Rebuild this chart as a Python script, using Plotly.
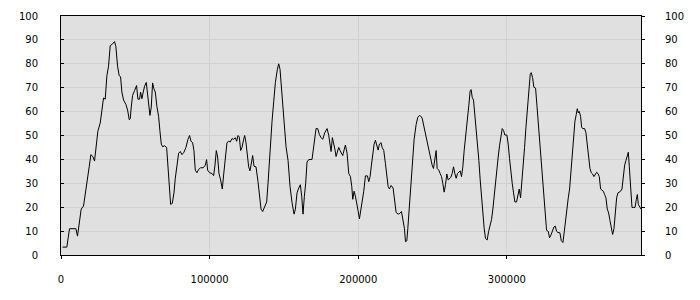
import plotly.graph_objects as go

x_vals = [1000, 3930, 5720, 9990, 11110, 12240, 13580, 15150, 16280, 17400, 18970, 20090, 21440, 22560,
          23460, 24810, 26380, 27500, 28620, 29750, 30870, 31990, 33110, 34690, 36030, 36930, 38050,
          39180, 40080, 40970, 42100, 43670, 44790, 45920, 46590, 47260, 48160, 49510, 50850, 51750,
          52870, 53550, 54450, 55350, 56240, 57370, 58040, 58940, 59840, 60730, 61630, 62530, 63430,
          64550, 65680, 66580, 67480, 68370, 69720, 71070, 71960, 72860, 73760, 74880, 76010, 76900,
          78030, 79150, 80270,
          81370, 82720, 84060, 85410, 86530, 87430, 88550, 89450, 90350, 91470, 92600, 93940, 95740,
          97090, 97980, 98660, 100000, 101580, 102700, 103600, 104490, 105390, 106290, 107410, 108530,
          109430, 110560, 111680, 112800, 113920, 115050, 116170, 117290, 118190, 119090, 119980,
          120880, 121780, 122900, 123580, 124470, 125370, 126270, 127170, 128070, 128960, 129860,
          131210, 132560, 133680, 134580, 135700, 137050, 138390, 139290, 140190, 141090, 141990,
          143110, 144230, 145580, 146480, 147370, 148270, 149400, 150520, 151420, 152760, 154110,
          155460, 156800, 157700, 158820, 159950, 161070,
          161950, 162850, 163750, 164640, 165540, 166670, 168910, 169810, 170710, 171600, 172730,
          173850, 174970, 176090, 177440, 179010, 180140, 181030, 181710, 182600, 183500, 184400,
          185070, 185970, 186870, 187770, 188670, 189560, 190460, 191360, 192480, 193610, 194730,
          195630, 196300, 197200, 198100, 199000, 199890, 200790, 201690, 202590, 203710, 204830,
          206180, 207080, 207970, 208870, 209770, 210670, 211570, 212460, 213360, 214260, 215380,
          216060, 217180, 218300, 219200, 220100, 220990, 222120, 223460, 224590, 225480, 226830,
          227950, 229080, 230200, 231100, 231770, 232670, 233340, 234240, 235360, 236480, 237610,
          238950, 240080, 241200, 241870,
          242990, 243880, 244780, 245680, 246580, 247480, 248600, 249720, 250620, 251520, 252410,
          253090, 254210, 255110, 256010, 256900, 257800, 258700, 259600, 260500, 261390, 262290,
          263190, 264090, 264990, 265880, 266780, 267680, 268580, 269480, 270370, 271270, 272170,
          273290, 274420, 275310, 275990, 276660, 277560, 278460, 279350, 280250, 281150, 282050,
          282950, 283840, 284740, 285640, 286760, 287660, 288560, 289680, 290580, 291480, 292380,
          293270, 294170, 295070, 295970, 296870, 297760, 298660, 300010, 300910, 301800, 302700,
          303600, 304500, 305400, 306520, 307420, 308320, 309210, 310110, 311010, 311910, 312810,
          313700, 314600, 315720, 316400, 317290, 318190, 319320, 320220, 321110, 322010,
          323120, 324020, 324920, 325820, 326710, 327840, 328730, 329630, 330530, 331650, 332550,
          333450, 334350, 335690, 336590, 337710, 338610, 339510, 340410, 341310, 342200, 343100,
          344000, 344900, 345800, 346690, 347370, 348040, 348710, 349610, 350290, 350960, 352310,
          353200, 354100, 355000, 355900, 356800, 357690, 358590, 359490, 360390, 361290, 362180,
          363080, 363980, 364880, 365780, 366670, 367570, 368470, 369370, 370270, 371160, 372060,
          372960, 373860, 374760, 375650, 376550, 377450, 378350, 379250, 380140, 381040, 381720,
          382390, 383290, 384190, 385310, 386210, 387110, 387780, 388450, 389350, 390250]

y_vals = [3.3, 3.3, 11, 11, 7.9, 13.7, 19.2, 20.5, 26, 30.7, 36.9, 42, 41.2, 39.3,
          43.7, 51.8, 55.2, 60, 65.7, 65.2, 75, 79, 87.6, 88.3, 89.3, 87.2, 79,
          75, 74.6, 68.2, 64.8, 63, 60.7, 56.6, 57, 61.9, 66.8, 68.8, 70.9, 65.2,
          65.2, 68.2, 65.4, 68.2, 70.6, 72.2, 68.2, 61.4, 58.4, 61.9, 72, 69.5, 68.2,
          62, 58, 51.8, 46.4, 45.3, 45.7, 45, 38.2, 30.7, 21.2, 21.6, 26, 32.1,
          38.9, 42.6, 43.3,
          42, 43, 45, 48.4, 50, 47.6, 47, 43.7, 35.5, 34.4, 35.8, 36.5, 36.5,
          37.6, 39.9, 35.5, 34.4, 34.1, 33.2, 37.6, 43.7, 41, 34.1, 31.4, 27.6,
          33.5, 41, 47, 47.6, 47.3, 48.7, 48.4, 49.1, 47.6, 50, 49.3,
          43.7, 45, 48.4, 50, 47, 42.3, 36.9, 35.2, 39.6, 41.6, 37.1,
          36.9, 30.7, 23.3, 19.2, 18.2, 19.9, 22.2, 30, 39.6, 47.8, 55.9,
          64.1, 72.2, 77.7, 80, 77.7, 70.9, 61.4, 51.8, 45.3, 39.6, 28.7,
          21.9, 17.1, 19.2, 26, 28, 29.4,
          24.6, 17.1, 24.6, 30, 38.9, 39.9, 40, 45, 50.4, 52.9, 52.9,
          50.4, 49.1, 48.4, 51.1, 52.9, 50.1, 45.7, 43.3, 49.1, 47, 43.9,
          41.2, 43.7, 45, 43.7, 42.3, 41.6, 43.9, 46, 42.6, 34.1, 32.8,
          28.7, 23.3, 26.7, 24.6, 20.5, 18.5, 15.1, 18.5, 21.9, 26.7, 33.1,
          33.1, 30.7, 32.8, 37.6, 43, 46.4, 48, 45.7, 43.9, 46.4, 47,
          45, 43.7, 38.2, 33.5, 28.7, 27.6, 29.1, 28, 21.9, 17.8, 17.1,
          17.4, 18.2, 14.7, 11, 5.6, 5.9, 11, 19.2, 30, 41, 48.4,
          54.6, 57.6, 58.4, 58.2,
          57.3, 54.6, 51.2, 49.1, 47, 43.7, 39.6, 37.6, 36.2, 41, 43.7,
          36.2, 35.5, 34.1, 32.8, 30, 26.3, 29.4, 33.9, 31.4, 32.1, 32.5,
          34.1, 36.9, 34.1, 32.1, 34.1, 34.8, 35.2, 32.8, 36.9, 43.7, 48.4,
          54.6, 62.7, 68.8, 69.2, 66, 64.8, 58.6, 53.2, 47, 39.6, 31.4,
          24.6, 16.5, 11, 6.9, 6.3, 9.7, 11.7, 14.8, 19.2, 25.3, 31.4,
          36.9, 41, 45.7, 49.7, 52.9, 52.1, 50.2, 50.2, 46.4, 40.3, 34.1,
          30, 26, 22.2, 22.2, 24.6, 27.6, 23.9, 30, 36.9, 45, 53.2,
          61.2, 69.4, 75.6, 76.3, 74.3, 70.2, 69.8, 62.7, 55.2, 47.8,
          41, 31.4, 23.3, 16.5, 10.3, 9.9, 7.2, 8.3, 9.9, 11.7, 12.1,
          9.9, 9.4, 9.3, 6, 5.2, 9.7, 15.1, 19.9, 23.9, 27.6, 35.5,
          43.7, 51.2, 56, 58.8, 61.2, 59.5, 60.1, 58, 53.5, 52.9, 52.9,
          51.2, 46.4, 41, 36.2, 34.4, 33.9, 32.8, 33.5, 34.6, 34.1, 32.8,
          27.6, 27.3, 26.7, 25.3, 23.9, 19.2, 17.6, 14.4, 11, 8.6, 11,
          17.8, 23.9, 26, 26.3, 26.7, 27.6, 34.1, 37.6, 39.6, 42.3, 43,
          36.9, 27.3, 19.9, 19.9, 19.9, 23.3, 25.3, 21.2, 19.9, 19.2]

x_range = [0, 390250]
y_range = [0, 100]
x_ticks = [0, 100000, 200000, 300000]
y_ticks = list(range(0, 101, 10))

font = dict(family="DejaVu Sans", size=10, color="#000000")

fig = go.Figure()
fig.add_trace(go.Scatter(x=x_vals, y=y_vals, mode="lines",
                         line=dict(color="#000000", width=1), showlegend=False,
                         hoverinfo="skip"))
fig.add_trace(go.Scatter(x=[x_vals[0]], y=[None], yaxis="y2", mode="lines",
                         showlegend=False, hoverinfo="skip"))

fig.update_layout(
    width=700, height=300,
    margin=dict(l=61, r=59, t=10, b=45),
    paper_bgcolor="#ffffff",
    plot_bgcolor="#e0e0e0",
    font=font,
    xaxis=dict(range=x_range, tickvals=x_ticks, tickformat="d",
               showgrid=True, gridcolor="#d0d0d0", gridwidth=1, zeroline=False,
               showline=True, linecolor="#000000", linewidth=1, mirror=True,
               ticks="outside", ticklen=3, tickcolor="#000000",
               ticklabelstandoff=12, tickfont=font),
    yaxis=dict(range=y_range, tickvals=y_ticks,
               showgrid=True, gridcolor="#d0d0d0", gridwidth=1, zeroline=False,
               showline=True, linecolor="#000000", linewidth=1, mirror=True,
               ticks="inside", ticklen=3, tickcolor="#000000",
               ticklabelstandoff=20, tickfont=font),
    yaxis2=dict(range=y_range, tickvals=y_ticks, overlaying="y", side="right",
                showgrid=False, zeroline=False, showline=False,
                ticks="outside", ticklen=3, tickcolor="#000000",
                ticklabelstandoff=18, tickfont=font),
)

fig.write_html("out.html")
